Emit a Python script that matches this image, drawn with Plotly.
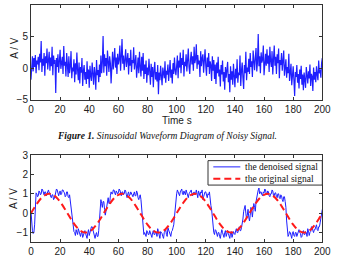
import plotly.graph_objects as go

# ---- Data ----
noisy_step = 0.5
noisy_values = [
    -1.8, 0.3, 1.9, -0.5, 1.6, 0.2, 2.1, -0.8, 1.2, 0.6, 1.8, -0.3, 2.3, 0.9, 4.3, -0.6, 1.5, 0.4, 2.4, -1.2, 1.9, 0.8, 3.1, -0.2, 1.4,
    2.6, -0.4, 1.7, 0.3, 3.4, -1.1, 2.0, 0.7, 1.3, -3.9, 1.6, 0.2, 2.2, -0.7, 1.1, 2.9, -0.1, 0.9, 1.8, -0.9, 3.5, 0.4, 1.0, -1.3, 2.4,
    0.6, -1.4, 1.9, -0.8, 0.3, 2.7, -1.6, 0.1, -0.5, 1.4, -2.2, 0.8, -1.0, 2.5, -0.3, -1.9, 0.9, -2.4, 0.2, -0.7, 1.6, -2.8, -0.4, 0.5, -1.8,
    -0.6, -2.5, 1.1, -1.7, -0.2, -3.1, 0.4, -1.2, -2.0, 0.9, -1.5, -2.6, 0.2, -0.9, -3.4, 1.3, -1.1, -0.3, -2.2, 0.6, -1.4, 2.0, -0.8, 0.9, 5.1,
    -0.7, 2.2, 0.3, 1.6, -1.2, 2.8, 0.5, -0.6, 1.9, 0.8, -2.4, 1.5, 2.6, -0.2, 1.2, 3.2, 0.1, 1.7, -0.9, 2.3, 0.6, 1.4, 3.6, -0.4, 1.8,
    4.6, 0.7, 2.0, -0.3, 1.5, 3.0, 0.2, 1.1, 2.4, -1.0, 1.6, 0.4, 2.9, -0.6, 1.3, 0.8, 3.3, -0.2, 1.0, 2.1, -1.5, 0.9, 1.7, -0.8, 2.6,
    0.3, -1.3, 1.8, -0.4, 2.4, -1.7, 0.6, -0.9, 1.2, -2.3, 0.1, -1.1, 1.5, -0.5, -2.6, 0.7, -1.4, 0.2, -3.0, -0.3, 1.0, -1.8, -0.6, -2.1, 0.5,
    -4.1, -0.7, -1.9, 0.4, -1.2, -2.7, 0.1, -0.8, -1.6, 1.1, -2.3, -0.4, -1.0, 0.6, -2.0, -0.5, 1.3, -1.5, -0.2, -2.4, 0.8, -0.9, 1.7, -0.3, -1.1,
    0.4, 2.0, -1.6, 1.2, 0.1, 2.5, -0.8, 1.6, 0.5, 2.9, -1.3, 1.0, 0.3, 2.2, -0.5, 1.8, 3.1, 0.2, -0.9, 1.4, 2.6, 0.6, 1.9, -0.4, 3.4,
    0.8, 1.5, 3.8, -0.1, 2.1, 0.6, 1.2, -1.4, 2.7, 0.3, 1.6, 2.2, -0.7, 1.0, 3.0, 0.4, -1.2, 1.7, 0.2, 2.4, -0.9, 1.1, 0.5, -2.0, 1.9,
    -0.4, 1.3, -1.7, 0.6, -2.5, 0.9, -0.8, 1.8, -1.3, -0.2, -2.9, 0.5, -1.0, 1.2, -2.1, -0.6, -3.4, 0.2, -1.5, -0.3, 1.0, -2.2, -0.9, -3.8, 0.3,
    -1.8, -0.5, -2.6, 0.7, -1.2, -3.0, -0.1, -1.6, 1.4, -2.3, -0.7, -1.1, 2.0, -2.8, -0.4, 0.9, -1.5, -3.3, 0.5, -0.8, 2.6, -1.9, 0.1, -0.6, 1.5,
    -0.9, 2.4, 0.2, 1.1, -1.4, 2.8, 0.6, -0.3, 1.7, 3.2, -0.5, 1.0, 5.4, 0.3, 1.9, -0.8, 2.5, 0.9, 1.4, 3.6, -1.1, 1.2, 2.3, 0.4, 3.0,
    0.7, 2.0, -0.6, 3.4, 1.1, 0.2, 2.7, -1.0, 1.5, 3.6, 0.4, 1.8, -0.9, 2.2, 0.8, 3.1, -1.6, 1.3, 0.5, 2.4, -0.4, 1.0, 2.8, -1.2, 0.6,
    1.4, -1.5, 0.2, -0.8, 2.3, -2.0, -0.4, 0.7, -2.7, -1.1, 0.3, -1.9, -4.4, -0.6, -1.4, 0.5, -2.3, -0.9, -3.2, -0.2, -1.7, 0.4, -2.6, -1.0, -3.5,
    -0.7, -1.9, -3.1, 0.2, -1.2, -2.4, -0.5, -1.6, 0.6, -2.8, -0.9, -1.3, -3.6, 0.1, -1.8, -0.6, -2.2, 0.3, -1.0, -1.9, 1.2, -0.8, -0.2, -1.5, 0.8,
    1.6,
]

denoised_step = 0.5
denoised_values = [
    0.1, -0.5, -0.9, -1.05, -1.0, -0.6, 0.6, 1.05, 1.0, 0.85,
    0.9, 1.15, 1.1, 0.95, 1.0, 1.25, 1.2, 1.0, 0.95, 1.1,
    1.1, 0.9, 1.0, 1.2, 1.2, 1.05, 1.05, 0.85, 0.8, 0.95,
    0.95, 0.7, 0.75, 0.9, 1.1, 1.25, 1.2, 1.0, 0.9, 1.05,
    1.15, 0.95, 1.0, 1.2, 1.2, 1.1, 1.05, 0.85, 0.9, 1.1,
    1.1, 0.85, 0.8, 0.95, 0.6, 0.4, 0.2, -0.3, -0.7, -0.95,
    -1.0, -1.15, -0.85, -1.0, -1.1, -0.8, -0.95, -1.2, -1.2, -1.0,
    -1.0, -1.25, -1.1, -0.9, -0.9, -1.05, -1.2, -1.3, -1.0, -0.85,
    -1.15, -0.95, -0.85, -0.7, -0.7, -0.9, -1.05, -1.25, -1.3, -1.1,
    -1.0, -1.2, -1.2, -0.9, -0.4, 0.3, 0.7, 0.5, 0.3, 0.6,
    0.6, 0.2, -0.1, 0.1, 0.4, 0.7, 0.8, 0.5, 0.5, 0.9,
    1.1, 1.0, 1.0, 1.2, 1.2, 1.05, 0.95, 1.15, 1.1, 1.0,
    1.05, 1.25, 1.2, 1.0, 0.9, 1.1, 1.1, 0.95, 1.0, 1.2,
    1.15, 0.95, 0.8, 1.0, 1.1, 0.9, 0.95, 1.1, 1.0, 0.85,
    0.85, 1.0, 1.1, 0.9, 0.9, 1.15, 1.05, 0.8, 0.7, 0.85,
    0.95, 0.7, 0.3, -0.4, -0.9, -1.1, -1.0, -1.15, -1.2, -0.9,
    -0.95, -1.1, -1.1, -0.9, -1.0, -1.2, -1.25, -1.0, -0.9, -1.1,
    -1.1, -0.95, -1.0, -1.2, -0.8, -0.95, -1.15, -1.3, -0.95, -1.0,
    -1.05, -1.2, -1.3, -1.0, -0.9, -0.85, -1.1, -1.2, -0.75, -0.9,
    -1.0, -1.15, -1.2, -0.95, -0.9, -0.75, -0.6, -0.2, 0.4, 0.9,
    1.0, 1.2, 1.1, 0.95, 0.9, 1.1, 1.2, 1.25, 1.0, 0.95,
    1.15, 1.0, 0.95, 1.2, 1.1, 0.9, 0.8, 1.0, 1.05, 1.15,
    1.2, 1.0, 0.9, 1.05, 1.1, 0.95, 1.0, 1.2, 0.85, 0.8,
    1.15, 1.05, 0.9, 1.1, 1.05, 1.2, 0.7, 0.85, 1.0, 1.1,
    1.1, 0.9, 0.8, 1.0, 0.95, 1.1, 0.6, 0.4, 0.2, -0.3,
    -0.8, -1.0, -1.1, -0.85, -0.9, -1.15, -1.2, -1.0, -1.0, -1.2,
    -1.3, -1.05, -0.85, -1.0, -1.1, -1.25, -1.0, -0.9, -1.2, -1.1,
    -0.9, -1.05, -1.15, -1.3, -1.0, -0.95, -1.25, -1.1, -0.95, -1.05,
    -1.1, -0.9, -0.8, -1.0, -1.0, -0.85, -0.7, -0.9, -0.9, -0.75,
    -0.6, -0.3, 0.1, 0.3, 0.4, 0.0, -0.3, -0.1, 0.2, -0.2,
    -0.4, -0.1, 0.3, 0.1, -0.2, 0.2, 0.5, 0.3, 0.1, 0.6,
    0.9, 1.1, 1.2, 1.3, 1.0, 1.1, 1.1, 0.95, 0.9, 1.1,
    1.05, 1.25, 1.2, 1.0, 0.95, 1.15, 1.1, 0.9, 0.85, 1.0,
    1.0, 1.2, 1.15, 0.9, 0.9, 1.05, 1.05, 0.85, 0.8, 1.0,
    1.0, 0.8, 0.75, 0.95, 0.9, 0.7, 0.6, 0.85, 0.85, 0.6,
    0.3, -0.4, -0.9, -1.2, -1.1, -0.95, -1.0, -1.3, -1.3, -1.0,
    -0.95, -1.15, -1.2, -1.0, -1.0, -1.2, -1.1, -0.9, -0.85, -1.0,
    -1.05, -1.25, -1.2, -0.95, -0.9, -1.1, -1.1, -0.95, -1.0, -1.2,
    -0.8, -0.9, -1.15, -1.0, -0.95, -0.7, -0.7, -0.9, -1.0, -0.85,
    -0.85, -0.7, -0.6, -0.85, -0.9, -0.7, -0.7, -0.5, -0.3, 0.0,
    0.2,
]

original_step = 2.5
original_values = [
    0.0, 0.31, 0.59, 0.81, 0.95, 1.0, 0.95, 0.81, 0.59, 0.31,
    0.0, -0.31, -0.59, -0.81, -0.95, -1.0, -0.95, -0.81, -0.59, -0.31,
    0.0, 0.31, 0.59, 0.81, 0.95, 1.0, 0.95, 0.81, 0.59, 0.31,
    0.0, -0.31, -0.59, -0.81, -0.95, -1.0, -0.95, -0.81, -0.59, -0.31,
    0.0, 0.31, 0.59, 0.81, 0.95, 1.0, 0.95, 0.81, 0.59, 0.31,
    0.0, -0.31, -0.59, -0.81, -0.95, -1.0, -0.95, -0.81, -0.59, -0.31,
    0.0, 0.31, 0.59, 0.81, 0.95, 1.0, 0.95, 0.81, 0.59, 0.31,
    0.0, -0.31, -0.59, -0.81, -0.95, -1.0, -0.95, -0.81, -0.59, -0.31,
    0.0,
]

x_ticks = [0, 20, 40, 60, 80, 100, 120, 140, 160, 180, 200]
top_y_ticks = [-5, 0, 5, 10]
bottom_y_ticks = [-1, 0, 1, 2, 3]

legend_labels = ["the denoised signal", "the original signal"]
caption_text = "<b>Figure 1.</b> Sinusoidal Waveform Diagram of Noisy Signal."

# ---- Figure ----
W, H = 340, 261
BLUE = "#1f1fff"
RED = "#ff1a1a"
DASH = "7px,4px"
noisy_t = [i * noisy_step for i in range(len(noisy_values))]
den_t = [i * denoised_step for i in range(len(denoised_values))]
orig_t = [i * original_step for i in range(len(original_values))]

fig = go.Figure()
fig.add_trace(go.Scatter(x=noisy_t, y=noisy_values, mode="lines",
                         line=dict(color=BLUE, width=1.2), showlegend=False,
                         xaxis="x", yaxis="y"))
fig.add_trace(go.Scatter(x=den_t, y=denoised_values, mode="lines",
                         line=dict(color=BLUE, width=1),
                         name=legend_labels[0], showlegend=False, xaxis="x2", yaxis="y2"))
fig.add_trace(go.Scatter(x=orig_t, y=original_values, mode="lines",
                         line=dict(color=RED, width=2, dash=DASH, shape="spline"),
                         name=legend_labels[1], showlegend=False, xaxis="x2", yaxis="y2"))

xdom = [29 / W, 331 / W]
ax_common = dict(showline=True, linecolor="#333", linewidth=1, mirror="ticks",
                 ticks="inside", ticklen=3, tickcolor="#333", showgrid=False,
                 zeroline=False, tickfont=dict(family="Liberation Sans, Arial", size=10, color="#222"))

fig.update_layout(
    width=W, height=H, margin=dict(l=0, r=0, t=0, b=0),
    paper_bgcolor="white", plot_bgcolor="white", showlegend=False,
    xaxis=dict(domain=xdom, range=[0, 200], tickvals=x_ticks, anchor="y", **ax_common),
    yaxis=dict(domain=[1 - 99 / H, 1.0], range=[-5, 10], tickvals=top_y_ticks, anchor="x", **ax_common),
    xaxis2=dict(domain=xdom, range=[0, 200], tickvals=x_ticks, anchor="y2", **ax_common),
    yaxis2=dict(domain=[1 - 247.7 / H, 1 - 156.7 / H], range=[-1.5, 3], tickvals=bottom_y_ticks,
                anchor="x2", **ax_common),
)


def px(x):
    return x / W


def py(y):
    return 1 - y / H


# compact legend box (as in the reference)
fig.add_shape(type="rect", xref="paper", yref="paper", x0=px(212.5), x1=px(331), y0=py(188), y1=py(162.5),
              line=dict(color="#333", width=1), fillcolor="white", layer="above")
fig.add_shape(type="line", xref="paper", yref="paper", x0=px(218), x1=px(246), y0=py(169), y1=py(169),
              line=dict(color=BLUE, width=1), layer="above")
fig.add_shape(type="line", xref="paper", yref="paper", x0=px(218), x1=px(246), y0=py(181.5), y1=py(181.5),
              line=dict(color=RED, width=2, dash=DASH), layer="above")
for lab, yy in zip(legend_labels, [169, 181.5]):
    fig.add_annotation(xref="paper", yref="paper", showarrow=False, x=px(249), y=py(yy),
                       xanchor="left", yanchor="middle", text=lab,
                       font=dict(family="Liberation Serif, Times New Roman", size=9.5, color="#111"))

annos = [
    dict(text="A / V", x=px(11), y=py(45), textangle=-90),
    dict(text="A / V", x=px(11), y=py(202), textangle=-90),
    dict(text="Time s", x=px(180), y=py(121)),
]
for a in annos:
    fig.add_annotation(xref="paper", yref="paper", showarrow=False,
                       xanchor="center", yanchor="middle",
                       font=dict(family="Liberation Sans, Arial", size=10, color="#222"), **a)
fig.add_annotation(xref="paper", yref="paper", showarrow=False, x=px(170), y=py(137),
                   xanchor="center", yanchor="middle", text="<i>" + caption_text + "</i>",
                   font=dict(family="Liberation Serif, Times New Roman", size=9.5, color="#111"))

fig.write_html("out.html")
